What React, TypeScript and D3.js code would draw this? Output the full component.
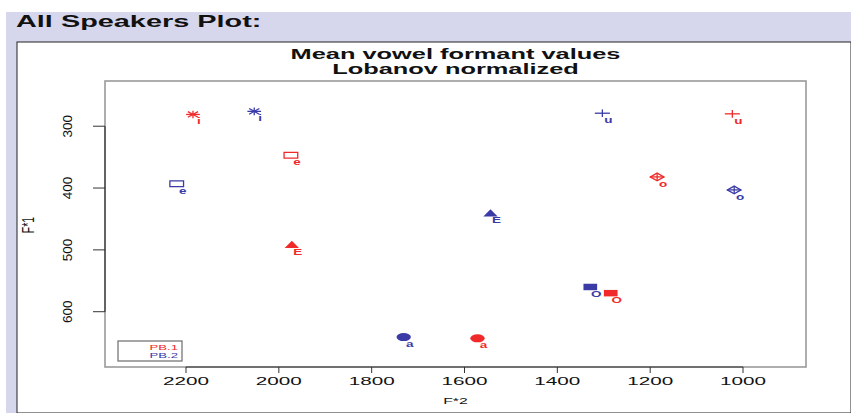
import React from 'react'
import * as d3 from 'd3'

// values (F2 on x, reversed; F1 on y, reversed)
const speakers = ['PB.1', 'PB.2']
const speakerColors = ['#f02a2a', '#3b3ba8']
const vowels = ['i', 'e', 'E', 'a', 'O', 'o', 'u']
const vowelShapes = ['asterisk', 'square', 'triangle', 'circle', 'filledSquare', 'diamondPlus', 'plus']
const f2PB1 = [2185, 1974, 1972, 1572, 1285, 1185, 1023]
const f1PB1 = [281, 347, 492, 643, 570, 382, 280]
const f2PB2 = [2053, 2220, 1544, 1731, 1329, 1019, 1303]
const f1PB2 = [276, 393, 441, 641, 560, 403, 279]
const xTicks = [2200, 2000, 1800, 1600, 1400, 1200, 1000]
const yTicks = [300, 400, 500, 600]

const W = 851
const H = 413
const box = { left: 105, right: 806, top: 81, bottom: 367 }
const SX = 1.75 // the screenshot is stretched sideways

const x = d3.scaleLinear().domain([2374.5, 864.3]).range([box.left, box.right])
const y = d3.scaleLinear().domain([226.9, 689.4]).range([box.top, box.bottom])

const font = 'Liberation Sans, Arial, sans-serif'

function SText({ x, y, size, children, anchor = 'start', weight = 400, fill = '#111', sx = SX }: any) {
  return (
    <text
      transform={`translate(${x},${y}) scale(${sx},1)`}
      fontSize={size}
      fontWeight={weight}
      fill={fill}
      textAnchor={anchor}
      fontFamily={font}
    >
      {children}
    </text>
  )
}

function Marker({ shape, cx, cy, color }: { shape: string; cx: number; cy: number; color: string }) {
  const r = 3.8
  const t = `translate(${cx},${cy}) scale(${1.8},1)`
  const sw = 1.3
  if (shape === 'asterisk') {
    return (
      <g transform={t} stroke={color} strokeWidth={sw} fill="none">
        <line x1={-r} y1={0} x2={r} y2={0} vectorEffect="non-scaling-stroke" />
        <line x1={0} y1={-r} x2={0} y2={r} vectorEffect="non-scaling-stroke" />
        <line x1={-r * 0.75} y1={-r * 0.75} x2={r * 0.75} y2={r * 0.75} vectorEffect="non-scaling-stroke" />
        <line x1={-r * 0.75} y1={r * 0.75} x2={r * 0.75} y2={-r * 0.75} vectorEffect="non-scaling-stroke" />
      </g>
    )
  }
  if (shape === 'plus') {
    return (
      <g transform={t} stroke={color} strokeWidth={sw} fill="none">
        <line x1={-r * 1.1} y1={0} x2={r * 1.1} y2={0} vectorEffect="non-scaling-stroke" />
        <line x1={0} y1={-r} x2={0} y2={r} vectorEffect="non-scaling-stroke" />
      </g>
    )
  }
  if (shape === 'square') {
    return (
      <g transform={t}>
        <rect x={-r} y={-r * 0.75} width={2 * r} height={1.5 * r} fill="none" stroke={color} strokeWidth={sw} vectorEffect="non-scaling-stroke" />
      </g>
    )
  }
  if (shape === 'filledSquare') {
    return (
      <g transform={t}>
        <rect x={-r} y={-r * 0.85} width={2 * r} height={1.7 * r} fill={color} />
      </g>
    )
  }
  if (shape === 'triangle') {
    return (
      <g transform={t}>
        <path d={`M0,${-r * 1.1}L${r * 1.05},${r * 0.8}L${-r * 1.05},${r * 0.8}Z`} fill={color} />
      </g>
    )
  }
  if (shape === 'circle') {
    return (
      <g transform={t}>
        <circle r={r * 1.05} fill={color} />
      </g>
    )
  }
  // diamond with plus
  return (
    <g transform={t} stroke={color} strokeWidth={sw} fill="none">
      <path d={`M0,${-r}L${r},0L0,${r}L${-r},0Z`} vectorEffect="non-scaling-stroke" />
      <line x1={-r} y1={0} x2={r} y2={0} vectorEffect="non-scaling-stroke" />
      <line x1={0} y1={-r} x2={0} y2={r} vectorEffect="non-scaling-stroke" />
    </g>
  )
}

export default function App() {
  const series = [
    { f2: f2PB1, f1: f1PB1, color: speakerColors[0] },
    { f2: f2PB2, f1: f1PB2, color: speakerColors[1] },
  ]
  const axisColor = '#333'

  return (
    <svg width={W} height={H} style={{ position: 'absolute', left: 0, top: 0, background: '#fff' }}>
      {/* page frame */}
      <rect x={6} y={12} width={W - 6} height={H - 12} fill="#d6d6ec" />
      <rect x={17} y={42} width={W - 17} height={H - 42} fill="#fff" stroke="#222" strokeWidth={1} />
      <SText x={16} y={27} size={16.5} weight={700}>All Speakers Plot:</SText>

      {/* title */}
      <SText x={455.5} y={59} size={14.5} weight={700} anchor="middle">Mean vowel formant values</SText>
      <SText x={455.5} y={74} size={14.5} weight={700} anchor="middle">Lobanov normalized</SText>

      {/* plot box */}
      <rect x={box.left} y={box.top} width={box.right - box.left} height={box.bottom - box.top} fill="none" stroke="#9a9a9a" strokeWidth={1.6} />

      {/* x axis */}
      <line x1={x(xTicks[0])} x2={x(xTicks[xTicks.length - 1])} y1={box.bottom} y2={box.bottom} stroke={axisColor} strokeWidth={1.2} />
      {xTicks.map(t => (
        <g key={t}>
          <line x1={x(t)} x2={x(t)} y1={box.bottom} y2={box.bottom + 6} stroke={axisColor} strokeWidth={1} />
          <SText x={x(t)} y={385} size={11.5} anchor="middle" sx={1.8}>{t}</SText>
        </g>
      ))}
      <SText x={455.5} y={404} size={9} anchor="middle">F*2</SText>

      {/* y axis */}
      <line x1={box.left} x2={box.left} y1={y(yTicks[0])} y2={y(yTicks[yTicks.length - 1])} stroke={axisColor} strokeWidth={1.2} />
      {yTicks.map(t => (
        <g key={t}>
          <line x1={box.left - 12} x2={box.left} y1={y(t)} y2={y(t)} stroke={axisColor} strokeWidth={1} />
          <text
            transform={`translate(72,${y(t)}) rotate(-90)`}
            fontSize={13.5}
            fontFamily={font}
            textAnchor="middle"
            fill="#111"
          >
            {t}
          </text>
        </g>
      ))}
      <text transform={`translate(34,225) scale(1.5,1) rotate(-90)`} fontSize={10.5} fontFamily={font} textAnchor="middle" fill="#111">F*1</text>

      {/* points with vowel labels */}
      {series.map((s, si) =>
        vowels.map((v, vi) => {
          const cx = x(s.f2[vi])
          const cy = y(s.f1[vi])
          return (
            <g key={`${si}-${v}`}>
              <Marker shape={vowelShapes[vi]} cx={cx} cy={cy} color={s.color} />
              <SText x={cx + 6} y={cy + 10} size={9} anchor="middle" fill={s.color} sx={1.5} weight={700}>{v}</SText>
            </g>
          )
        })
      )}

      {/* legend */}
      <rect x={118} y={341} width={64} height={20} fill="#fff" stroke="#777" strokeWidth={1.3} />
      {speakers.map((sp, i) => (
        <SText key={sp} x={178} y={350 + i * 8} size={7.5} anchor="end" fill={speakerColors[i]}>{sp}</SText>
      ))}
    </svg>
  )
}
